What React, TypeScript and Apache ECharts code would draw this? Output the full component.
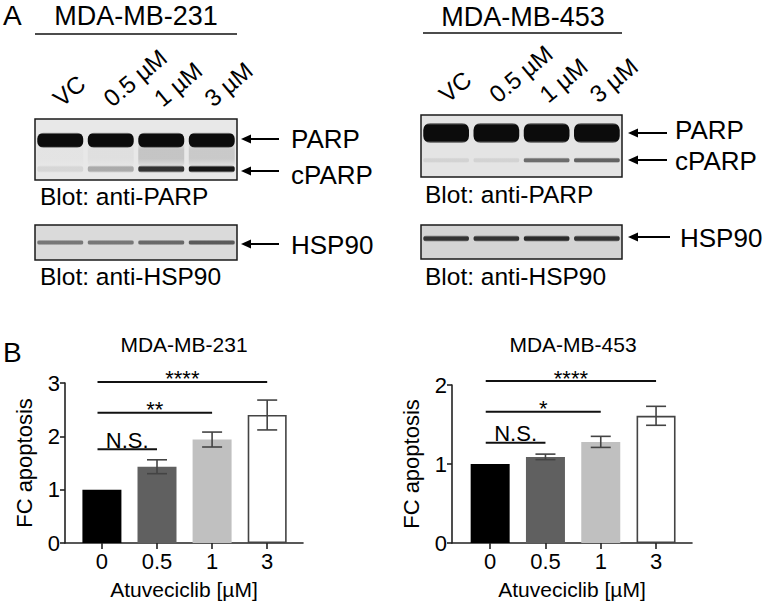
import React, { useEffect, useRef } from "react";
import * as echarts from "echarts";

// ---------- data ----------
const lanes = ["VC", "0.5 µM", "1 µM", "3 µM"];
// western blot band intensities per lane (0 = absent, 1 = saturated)
const parp231 = [1, 1, 1, 1];
const cparp231 = [0.08, 0.28, 0.82, 0.95];
const smear231 = [0.02, 0.04, 0.16, 0.14];
const hsp231 = [0.48, 0.48, 0.55, 0.62];
const parp453 = [1, 1, 1, 1];
const cparp453 = [0.08, 0.08, 0.55, 0.6];
const hsp453 = [0.8, 0.8, 0.85, 0.8];

const doses = ["0", "0.5", "1", "3"];
const fc231 = [1.0, 1.43, 1.94, 2.4];
const err231 = [0, 0.13, 0.14, 0.28];
const fc453 = [1.0, 1.09, 1.28, 1.61];
const err453 = [0, 0.035, 0.07, 0.12];

const sigLabels231 = ["N.S.", "**", "****"];
const sigTo231 = [1, 2, 3];
const sigY231 = [1.76, 2.44, 3.02];
const sigLabels453 = ["N.S.", "*", "****"];
const sigTo453 = [1, 2, 3];
const sigY453 = [1.27, 1.66, 2.05];

// ---------- styles ----------
const FONT = "'Liberation Sans', Arial, Helvetica, sans-serif";
const barColors = ["#000000", "#606060", "#c0c0c0", "#ffffff"];
const AX = "#222222";

function bandSeries(axis: number, data: number[], level: number, thick: number, radius: number, soft: number) {
  return {
    type: "custom",
    xAxisIndex: axis,
    yAxisIndex: axis,
    silent: true,
    data: data.map((v, i) => [i, v]),
    renderItem: (params: any, api: any) => {
      const c = api.coord([api.value(0), level]);
      const w = api.size([1, 0])[0] * 0.91;
      const a = api.value(1);
      const col = (k: number) => `rgba(12,12,12,${(a * k).toFixed(3)})`;
      return {
        type: "rect",
        shape: { x: c[0] - w / 2, y: c[1] - thick / 2, width: w, height: thick, r: radius },
        style: {
          fill: {
            type: "linear",
            x: 0, y: 0, x2: 0, y2: 1,
            colorStops: [
              { offset: 0, color: col(0.3) },
              { offset: soft, color: col(1) },
              { offset: 1 - soft, color: col(1) },
              { offset: 1, color: col(0.3) },
            ],
          },
        },
      };
    },
  };
}

function errorSeries(axis: number, means: number[], errs: number[]) {
  return {
    type: "custom",
    xAxisIndex: axis,
    yAxisIndex: axis,
    silent: true,
    z: 5,
    data: means.map((m, i) => [i, m, errs[i]]).filter((d) => d[2] > 0),
    renderItem: (params: any, api: any) => {
      const x = api.value(0);
      const m = api.value(1);
      const e = api.value(2);
      const t = api.coord([x, m + e]);
      const b = api.coord([x, m - e]);
      const hw = 10;
      const st = { stroke: "#444", lineWidth: 1.6 };
      return {
        type: "group",
        children: [
          { type: "line", shape: { x1: t[0], y1: t[1], x2: b[0], y2: b[1] }, style: st },
          { type: "line", shape: { x1: t[0] - hw, y1: t[1], x2: t[0] + hw, y2: t[1] }, style: st },
          { type: "line", shape: { x1: b[0] - hw, y1: b[1], x2: b[0] + hw, y2: b[1] }, style: st },
        ],
      };
    },
  };
}

function sigSeries(axis: number, labels: string[], to: number[], ys: number[]) {
  return {
    type: "custom",
    xAxisIndex: axis,
    yAxisIndex: axis,
    silent: true,
    z: 6,
    data: to.map((t, i) => [t, ys[i]]),
    renderItem: (params: any, api: any) => {
      const p1 = api.coord([-0.08, api.value(1)]);
      const p2 = api.coord([api.value(0), api.value(1)]);
      const label = labels[params.dataIndex];
      const star = label.indexOf("*") >= 0;
      return {
        type: "group",
        children: [
          { type: "line", shape: { x1: p1[0], y1: p1[1], x2: p2[0], y2: p2[1] }, style: { stroke: "#111", lineWidth: 2 } },
          {
            type: "text",
            x: (p1[0] + p2[0]) / 2,
            y: p1[1] - (star ? 3 : 9),
            style: { text: label, fontSize: 22, fontFamily: FONT, fill: "#000", align: "center", verticalAlign: "middle" },
          },
        ],
      };
    },
  };
}

function barSeries(axis: number, vals: number[]) {
  return {
    type: "bar",
    xAxisIndex: axis,
    yAxisIndex: axis,
    barWidth: 39,
    silent: true,
    data: vals.map((v, i) => ({
      value: [i, v],
      itemStyle: {
        color: barColors[i],
        borderColor: i === 3 ? "#444" : barColors[i],
        borderWidth: i === 3 ? 1.6 : 0,
      },
    })),
  };
}

function blotX(grid: number, labels: boolean) {
  return {
    type: "category",
    gridIndex: grid,
    data: lanes,
    position: "top",
    show: labels,
    axisLine: { show: false },
    axisTick: { show: false },
    splitLine: { show: false },
    axisLabel: {
      show: labels,
      interval: 0,
      rotate: 40,
      margin: 5,
      padding: [0, 0, 0, 5],
      align: "left",
      verticalAlign: "bottom",
      fontSize: 24,
      fontFamily: FONT,
      color: "#000",
    },
  };
}

function blotY(grid: number) {
  return { type: "value", gridIndex: grid, min: 0, max: 1, show: false, splitLine: { show: false } };
}

function barX(grid: number, min: number, max: number) {
  return {
    type: "value",
    gridIndex: grid,
    min,
    max,
    splitLine: { show: false },
    axisLine: { show: true, onZero: false, lineStyle: { color: AX, width: 1.6 } },
    axisTick: { show: true, customValues: [0, 1, 2, 3], length: 6, lineStyle: { color: AX, width: 1.6 } },
    axisLabel: {
      customValues: [0, 1, 2, 3],
      formatter: (v: number) => doses[Math.round(v)],
      fontSize: 22,
      fontFamily: FONT,
      color: "#000",
      margin: 7,
    },
    name: "Atuveciclib [µM]",
    nameLocation: "middle",
    nameGap: 36,
    nameTextStyle: { fontSize: 21, fontFamily: FONT, color: "#000" },
  };
}

function barY(grid: number, max: number) {
  return {
    type: "value",
    gridIndex: grid,
    min: 0,
    max,
    interval: 1,
    splitLine: { show: false },
    axisLine: { show: true, onZero: false, lineStyle: { color: AX, width: 1.6 } },
    axisTick: { show: true, length: 5, lineStyle: { color: AX, width: 1.6 } },
    axisLabel: { fontSize: 22, fontFamily: FONT, color: "#000", margin: 5 },
    name: "FC apoptosis",
    nameLocation: "middle",
    nameGap: 30,
    nameTextStyle: { fontSize: 22, fontFamily: FONT, color: "#000" },
  };
}

function txt(text: string, x: number, y: number, size: number, align = "left") {
  return {
    type: "text",
    x,
    y,
    silent: true,
    style: { text, fontSize: size, fontFamily: FONT, fill: "#000", align, verticalAlign: "middle" },
  };
}

function hline(x1: number, x2: number, y: number) {
  return { type: "line", silent: true, shape: { x1, y1: y, x2, y2: y }, style: { stroke: "#111", lineWidth: 1.6 } };
}

function arrow(x1: number, x2: number, y: number) {
  return {
    type: "group",
    silent: true,
    children: [
      { type: "line", shape: { x1: x1 + 6, y1: y, x2, y2: y }, style: { stroke: "#000", lineWidth: 2 } },
      { type: "polygon", shape: { points: [[x1, y], [x1 + 10, y - 4.5], [x1 + 10, y + 4.5]] }, style: { fill: "#000" } },
    ],
  };
}

export default function App() {
  const ref = useRef<HTMLDivElement>(null);
  useEffect(() => {
    if (!ref.current) return;
    const chart = echarts.init(ref.current, undefined, { renderer: "svg" });
    const option: any = {
      animation: false,
      backgroundColor: "#ffffff",
      textStyle: { fontFamily: FONT },
      grid: [
        { left: 35, top: 119, width: 202, height: 61, show: true, backgroundColor: "#e8e8e8", borderColor: "#1a1a1a", borderWidth: 1.5 },
        { left: 35, top: 225, width: 202, height: 35, show: true, backgroundColor: "#dadada", borderColor: "#1a1a1a", borderWidth: 1.5 },
        { left: 421, top: 115, width: 201, height: 62, show: true, backgroundColor: "#e4e4e4", borderColor: "#1a1a1a", borderWidth: 1.5 },
        { left: 421, top: 225, width: 201, height: 34, show: true, backgroundColor: "#d4d4d4", borderColor: "#1a1a1a", borderWidth: 1.5 },
        { left: 65, top: 383, width: 238, height: 160 },
        { left: 452, top: 385, width: 240, height: 158 },
      ],
      xAxis: [blotX(0, true), blotX(1, false), blotX(2, true), blotX(3, false), barX(4, -0.67, 3.65), barX(5, -0.69, 3.65)],
      yAxis: [blotY(0), blotY(1), blotY(2), blotY(3), barY(4, 3), barY(5, 2)],
      series: [
        bandSeries(0, smear231, 0.42, 22, 2, 0.3),
        bandSeries(0, parp231, 0.65, 15, 6, 0.1),
        bandSeries(0, cparp231, 0.18, 7, 3, 0.25),
        bandSeries(1, hsp231, 0.5, 5, 2, 0.3),
        bandSeries(2, parp453, 0.71, 20, 7, 0.1),
        bandSeries(2, cparp453, 0.27, 5, 2, 0.25),
        bandSeries(3, hsp453, 0.6, 6, 3, 0.25),
        barSeries(4, fc231),
        errorSeries(4, fc231, err231),
        sigSeries(4, sigLabels231, sigTo231, sigY231),
        barSeries(5, fc453),
        errorSeries(5, fc453, err453),
        sigSeries(5, sigLabels453, sigTo453, sigY453),
      ],
      graphic: [
        txt("A", 3, 15, 28),
        txt("B", 3, 352, 28),
        txt("MDA-MB-231", 136, 16, 27, "center"),
        hline(35, 237, 34),
        txt("MDA-MB-453", 523, 17, 27, "center"),
        hline(423, 622, 33),
        arrow(241, 279, 139),
        arrow(241, 279, 171),
        arrow(241, 279, 244),
        txt("PARP", 291, 139, 26),
        txt("cPARP", 291, 175, 26),
        txt("HSP90", 291, 245, 26),
        txt("Blot: anti-PARP", 40, 196, 24.5),
        txt("Blot: anti-HSP90", 40, 276, 24.5),
        arrow(628, 667, 133),
        arrow(628, 667, 160),
        arrow(628, 670, 237),
        txt("PARP", 675, 130, 26),
        txt("cPARP", 675, 161, 26),
        txt("HSP90", 680, 238, 26),
        txt("Blot: anti-PARP", 425, 194, 24.5),
        txt("Blot: anti-HSP90", 425, 276, 24.5),
        txt("MDA-MB-231", 184, 344, 21, "center"),
        txt("MDA-MB-453", 573, 344, 21, "center"),
      ],
    };
    chart.setOption(option);
    return () => chart.dispose();
  }, []);
  return <div ref={ref} style={{ position: "absolute", left: 0, top: 0, width: 766, height: 604 }} />;
}
